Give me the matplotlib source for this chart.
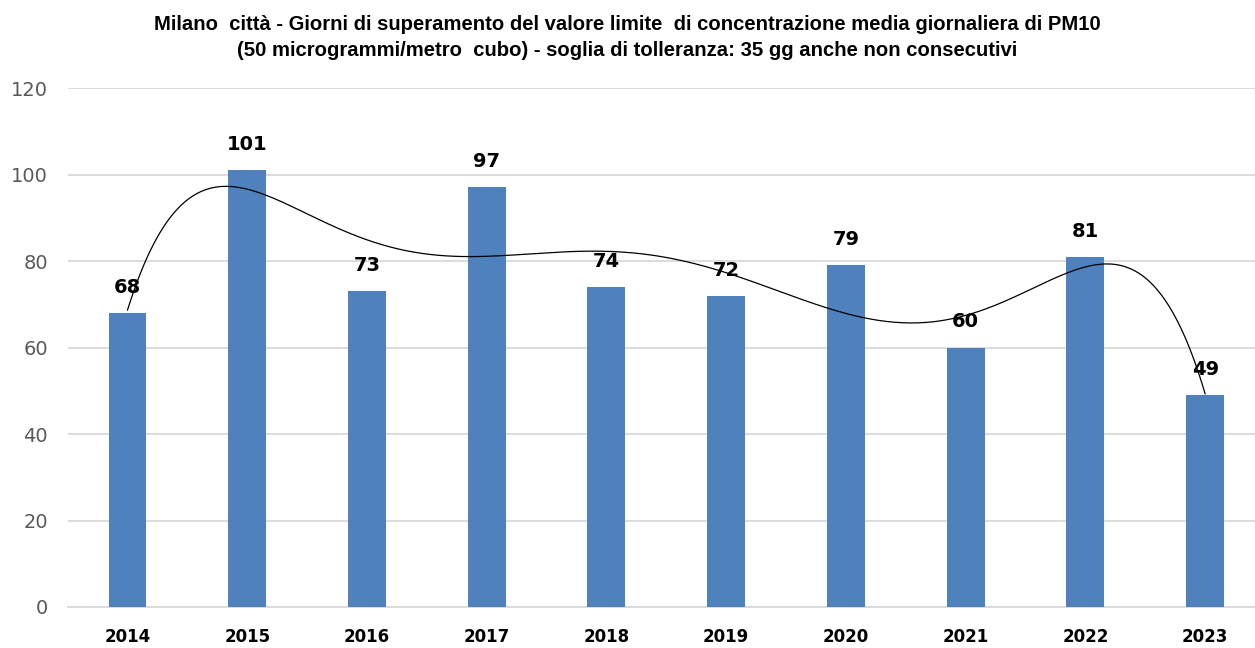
import numpy as np
import matplotlib
matplotlib.use("Agg")
import matplotlib.pyplot as plt

years = ["2014", "2015", "2016", "2017", "2018", "2019", "2020", "2021", "2022", "2023"]
days = [68, 101, 73, 97, 74, 72, 79, 60, 81, 49]
yticks = [0, 20, 40, 60, 80, 100, 120]
title1 = "Milano  città - Giorni di superamento del valore limite  di concentrazione media giornaliera di PM10"
title2 = "(50 microgrammi/metro  cubo) - soglia di tolleranza: 35 gg anche non consecutivi"

plt.rcParams['font.family'] = ['DejaVu Sans']
W, H = 1255, 648
fig = plt.figure(figsize=(W / 100, H / 100), dpi=100)
left, right, top, bottom = 68, 1265, 88, 607
ax = fig.add_axes([left / W, 1 - bottom / H, (right - left) / W, (bottom - top) / H])

x = np.arange(len(years))
ax.bar(x, days, width=0.317, color='#4f81bd', zorder=3)
for xi, v in zip(x, days):
    ax.text(xi, v + 5.9, str(v), ha='center', va='center', fontsize=14, fontweight='bold', zorder=5)

# polynomial trendline (order 6)
coef = np.polyfit(x, days, 6)
xs = np.linspace(0, 9, 400)
ax.plot(xs, np.polyval(coef, xs), color='black', lw=0.9, zorder=4)

ax.set_xlim(-0.497, 9.5)
ax.set_ylim(0, 120)
ax.set_yticks(yticks)
ax.set_xticks(x)
ax.set_xticklabels(years, fontsize=12, fontweight='bold')
ax.tick_params(axis='y', labelsize=14, colors='#595959', length=0, pad=14.4)
ax.tick_params(axis='x', length=0, pad=15)
ax.grid(axis='y', color='#d9d9d9', lw=1.3, zorder=0)
for s in ['top', 'right', 'left']:
    ax.spines[s].set_visible(False)
ax.spines['bottom'].set_color('#d9d9d9')
ax.spines['bottom'].set_linewidth(1.3)

fig.text(0.5, 1 - 25 / H, title1, ha='center', va='center', fontsize=14.6, fontweight='bold',
         family='Liberation Sans')
fig.text(0.5, 1 - 51 / H, title2, ha='center', va='center', fontsize=14.6, fontweight='bold',
         family='Liberation Sans')
fig.savefig("out.png", dpi=100)
